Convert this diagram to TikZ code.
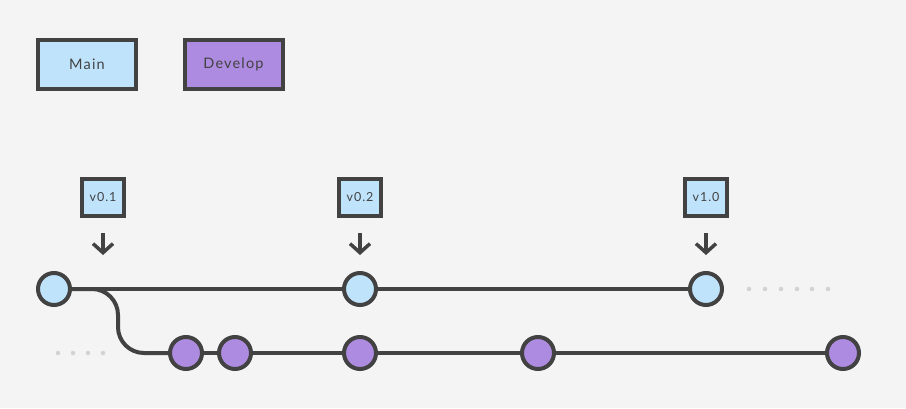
\documentclass[tikz,border=0pt]{standalone}
\usepackage{fontspec}
\setmainfont{Lato}[LetterSpace=8]
\usetikzlibrary{arrows.meta, backgrounds}
\definecolor{bgcol}{HTML}{F4F4F4}
\definecolor{mainblue}{HTML}{BFE3FB}
\definecolor{devpurple}{HTML}{AD8BE0}
\definecolor{ink}{HTML}{424242}
\definecolor{dotgray}{HTML}{D2D2D2}

\begin{document}
\begin{tikzpicture}[x=1pt, y=-1pt,
			legend/.style={rectangle, draw=ink, line width=4pt, minimum width=98pt,
					minimum height=49pt, text=ink, font=\fontsize{14.5}{16}\selectfont},
			tagbox/.style={rectangle, draw=ink, line width=4pt, fill=mainblue, minimum width=42pt,
					minimum height=37pt, text=ink, font=\fontsize{12.5}{14}\selectfont},
			commit/.style={circle, draw=ink, line width=4pt, minimum size=32pt, inner sep=0pt},
			maincommit/.style={commit, fill=mainblue},
			devcommit/.style={commit, fill=devpurple},
			branch/.style={draw=ink, line width=4pt},
			arrow/.style={draw=ink, line width=3.5pt, -{Straight Barb[length=9pt, width=20pt]},
					shorten <=15pt, shorten >=16pt},
			more/.style={circle, fill=dotgray, inner sep=0pt, minimum size=4.5pt},
		]
		\useasboundingbox (0,0) rectangle (906,408);

		% --- Legenda ---
		\node (mainkey) [legend, fill=mainblue]  at (87,   64.5) {Main};
		\node (devkey)  [legend, fill=devpurple] at (233.5, 64.5) {Develop};

		% --- Commit su main ---
		\node (m1) [maincommit] at (54,  289) {};
		\node (m2) [maincommit] at (360, 289) {};
		\node (m3) [maincommit] at (706, 289) {};

		% --- Commit su develop ---
		\node (d1) [devcommit] at (186, 353) {};
		\node (d2) [devcommit] at (235, 353) {};
		\node (d3) [devcommit] at (360, 353) {};
		\node (d4) [devcommit] at (538, 353) {};
		\node (d5) [devcommit] at (843, 353) {};

		% --- Tag di versione ---
		\node (t1) [tagbox] at (103, 197.5) {v0.1};
		\node (t2) [tagbox] at (360, 197.5) {v0.2};
		\node (t3) [tagbox] at (706, 197.5) {v1.0};
		\draw [arrow] (t1.south) -- (t1.south |- m1.north);
		\draw [arrow] (t2) -- (m2);
		\draw [arrow] (t3) -- (m3);

		% --- Sfondo e linee dei rami, dietro ai commit ---
		\coordinate (bend) at (118, 353);
		\begin{scope}[on background layer]
			\fill [bgcol] (0,0) rectangle (906,408);
			\draw [branch] (m1) -- (m2) -- (m3);
			\draw [branch] (d1) -- (d2) -- (d3) -- (d4) -- (d5);
			\draw [branch, rounded corners=26pt] (m1.center) -| (bend) -- (d1.center);
		\end{scope}

		% --- Puntini: la storia continua ---
		\foreach \x [count=\i] in {58, 73, 88, 103}
			\node (pre\i) [more] at (\x, 353) {};
		\foreach \x [count=\i] in {749, 765, 781, 797, 812, 828}
			\node (post\i) [more] at (\x, 289) {};

	\end{tikzpicture}
\end{document}
